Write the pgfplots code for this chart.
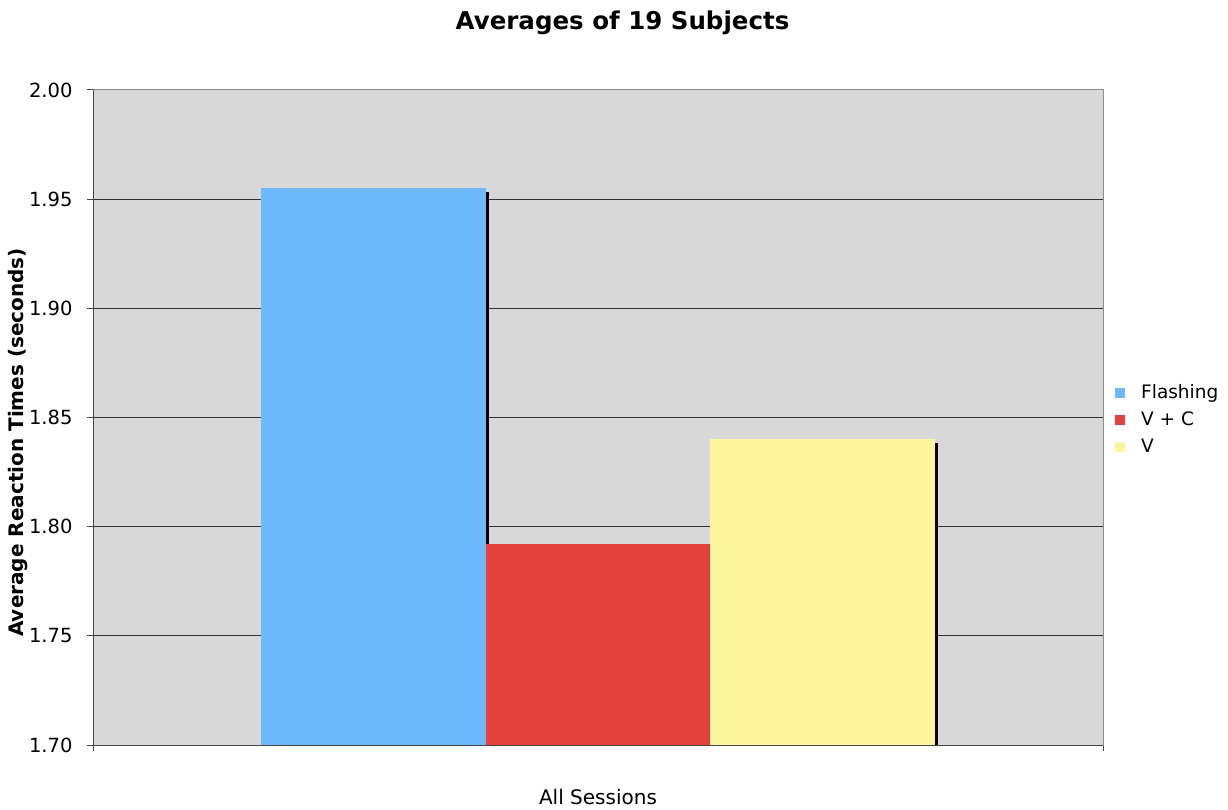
\documentclass[border=0pt]{standalone}
\usepackage{fontspec}
\setmainfont{DejaVu Sans}
\usepackage{pgfplots}
\pgfplotsset{compat=1.18}
\usetikzlibrary{shadows}

\definecolor{plotbg}{RGB}{216,216,216}
\definecolor{flash}{RGB}{110,185,250}
\definecolor{vc}{RGB}{228,64,60}
\definecolor{vonly}{RGB}{251,246,157}
\definecolor{framegray}{RGB}{140,140,140}
\definecolor{axisdark}{RGB}{70,70,70}

\tikzset{barshadow/.style={drop shadow={shadow xshift=3.5bp, shadow yshift=-3.5bp, fill=black, opacity=1}}}

\begin{document}
\begin{tikzpicture}
\begin{axis}[
  scale only axis,
  width=1010bp, height=655bp,
  xmin=-2.25, xmax=2.25,
  ymin=1.70, ymax=2.00,
  ybar,
  axis background/.style={fill=plotbg},
  axis line style={framegray, line width=1bp},
  xtick pos=bottom, ytick pos=left,
  xtick={-2.25,2.25}, xticklabels={},
  ytick={1.70,1.75,1.80,1.85,1.90,1.95,2.00},
  extra y ticks={1.75,1.80,1.85,1.90,1.95},
  extra y tick labels={},
  extra y tick style={ymajorgrids=true, major tick length=0pt},
  grid style={black!80, line width=0.9bp},
  tick align=outside,
  major tick length=6bp,
  tick style={axisdark, line width=1bp},
  ticklabel style={font=\fontsize{19.5bp}{23bp}\selectfont},
  yticklabel style={/tikz/xshift=-11bp, /pgf/number format/.cd, fixed, fixed zerofill, precision=2, assume math mode=true},
  title={Averages of 19 Subjects},
  title style={at={(axis description cs:0.5243,1.1038)}, anchor=center, yshift=-7bp, font=\bfseries\fontsize{24.5bp}{28bp}\selectfont},
  ylabel={Average Reaction Times (seconds)},
  ylabel style={at={(axis description cs:-0.0743,0.462)}, anchor=center, font=\bfseries\fontsize{20bp}{24bp}\selectfont},
  xlabel={All Sessions},
  xlabel style={at={(axis description cs:0.5,-0.0794)}, anchor=center, font=\fontsize{20bp}{24bp}\selectfont},
  legend image code/.code={\fill[#1] (0bp,-5bp) rectangle (10bp,5bp); \path (25bp,0bp);},
  legend cell align=left,
  legend style={at={(axis description cs:1.0119,0.496)}, anchor=west, draw=none, fill=none,
    font=\fontsize{18.5bp}{21bp}\selectfont, row sep=7bp, inner sep=0pt,
    nodes={inner sep=1bp, text height=14bp, text depth=4bp}},
]
% one bar per condition, each with its own black drop shadow
\addplot[bar width=1, bar shift=0pt, fill=flash, draw=none, barshadow, forget plot]
  coordinates {(-1,1.955)};
\addplot[bar width=1, bar shift=0pt, fill=vc, draw=none, barshadow, forget plot]
  coordinates {(0,1.792)};
\addplot[bar width=1, bar shift=0pt, fill=vonly, draw=none, barshadow, forget plot]
  coordinates {(1,1.840)};

\addlegendimage{fill=flash, draw=none}
\addlegendentry{Flashing}
\addlegendimage{fill=vc, draw=none}
\addlegendentry{V + C}
\addlegendimage{fill=vonly, draw=none}
\addlegendentry{V}
\end{axis}
% darker left and bottom edges of the plot frame
\draw[axisdark, line width=1bp] (current axis.south west) -- (current axis.north west);
\draw[axisdark, line width=1bp] (current axis.south west) -- (current axis.south east);
\pgfresetboundingbox
\path[use as bounding box] ([xshift=-93bp,yshift=-64bp]current axis.south west) rectangle ([xshift=125bp,yshift=90bp]current axis.north east);
\end{tikzpicture}
\end{document}
